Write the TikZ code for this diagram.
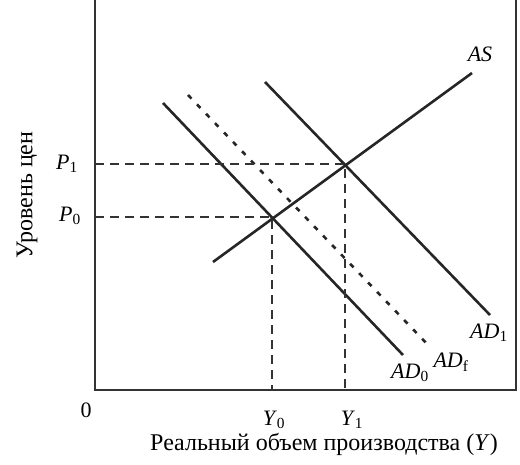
\documentclass[tikz,border=0pt]{standalone}
\usepackage{fontspec}
\setmainfont{Liberation Serif}
\usepackage{tikz}
\usetikzlibrary{positioning}

\begin{document}
\begin{tikzpicture}[x=1pt,y=-1pt,
  axis/.style={draw=black!80,line width=1.4pt},
  curve/.style={draw=black!85,line width=2.6pt},
  fcurve/.style={curve,dash pattern=on 5pt off 8pt},
  guide/.style={draw=black!80,line width=1.3pt,dash pattern=on 9pt off 6pt},
  lbl/.style={font=\fontsize{22}{26}\selectfont,inner sep=0pt},
  ttl/.style={font=\fontsize{24}{28}\selectfont,inner sep=0pt}]

\useasboundingbox (0,0) rectangle (520,464);

% frame
\coordinate (TL) at (95,0);
\coordinate (O)  at (95,390);
\coordinate (BR) at (516,390);
\coordinate (TR) at (516,0);
\draw[axis] (TL) -- (O) -- (BR) -- (TR);

% equilibrium points
\coordinate (E0) at (272,217);
\coordinate (E1) at (345,164);

% curves
\coordinate (as1)  at (213,262);  \coordinate (as2)  at (472,73);
\coordinate (ad01) at (163,103);  \coordinate (ad02) at (403,355);
\coordinate (adf1) at (188,95);   \coordinate (adf2) at (431,348);
\coordinate (ad11) at (265,82);   \coordinate (ad12) at (490,315);

\draw[curve]  (as1) -- (as2);
\draw[curve]  (ad01) -- (ad02);
\draw[fcurve] (adf1) -- (adf2);
\draw[curve]  (ad11) -- (ad12);

% guides
\draw[guide] (O |- E1) -- (E1) -- (E1 |- O);
\draw[guide] (O |- E0) -- (E0) -- (E0 |- O);

% labels
\node[lbl] (lAS)  at (480,54)  {\textit{AS}};
\node[lbl] (lAD1) at (489,333) {\textit{AD}\textsubscript{1}};
\node[lbl] (lADf) at (451,362) {\textit{AD}\textsubscript{f}};
\node[lbl] (lAD0) at (410,373) {\textit{AD}\textsubscript{0}};

\node[lbl] (lP1) at (67,164) {\textit{P}\textsubscript{1}};
\node[lbl] (lP0) at (70,216) {\textit{P}\textsubscript{0}};
\node[lbl] (lO)  at (86,410) {0};
\node[lbl] (lY0) at (274,420) {\textit{Y}\textsubscript{0}};
\node[lbl] (lY1) at (352,420) {\textit{Y}\textsubscript{1}};

\node[ttl] (xtitle) at (324,444) {Реальный объем производства (\textit{Y})};
\node[ttl,rotate=90] (ytitle) at (27,195) {Уровень цен};
\end{tikzpicture}
\end{document}
